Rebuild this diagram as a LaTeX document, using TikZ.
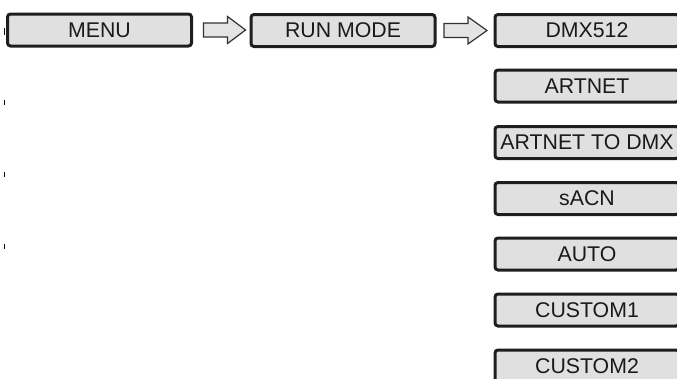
\documentclass[tikz,border=0pt]{standalone}
\usepackage{fontspec}
\setmainfont{Liberation Sans}
\usetikzlibrary{calc}
\definecolor{boxfill}{HTML}{E0E0E0}
\definecolor{boxline}{HTML}{1E1E1E}
\definecolor{txt}{HTML}{1A1A1A}
\definecolor{arrfill}{HTML}{E4E4E4}
\definecolor{arrline}{HTML}{333333}
\begin{document}
\begin{tikzpicture}[x=1pt,y=-1pt,
  menubox/.style={draw=boxline,fill=boxfill,line width=3pt,rounded corners=3pt,
    minimum width=184pt,minimum height=32pt,inner sep=0pt,text=txt,
    font=\fontsize{21.3}{25}\selectfont},
  optbox/.style={menubox,minimum width=184pt},
  blockarrow/.style={draw=arrline,fill=arrfill,line width=1.2pt,line join=miter},
  tick/.style={draw=black,line width=1pt}]
\useasboundingbox (0,0) rectangle (677,378);
\node[menubox] (menu) at (99.5,30) {MENU};
\node[menubox] (run) at (343,30.5) {RUN MODE};
\node[optbox] (dmx) at (587,30.5) {DMX512};
\node[optbox] (artnet) at (587,86) {ARTNET};
\node[optbox] (a2d) at (587,142.5) {ARTNET TO DMX};
\node[optbox] (sacn) at (587,198.5) {sACN};
\node[optbox] (auto) at (587,254) {AUTO};
\node[optbox] (c1) at (587,310) {CUSTOM1};
\node[optbox] (c2) at (587,366) {CUSTOM2};
% block arrows
\coordinate (s1) at ($(menu.east)+(10.5,0)$);
\draw[blockarrow] ($(s1)+(0,-7)$) -- ++(24,0) -- ++(0,-6.5) -- ($(s1)+(42,0)$)
  -- ($(s1)+(24,13.5)$) -- ++(0,-6.5) -- ($(s1)+(0,7)$) -- cycle;
\coordinate (s3) at ($(run.east)+(7.5,0)$);
\draw[blockarrow] ($(s3)+(0,-7)$) -- ++(24,0) -- ++(0,-6.5) -- ($(s3)+(43,0)$)
  -- ($(s3)+(24,13.5)$) -- ++(0,-6.5) -- ($(s3)+(0,7)$) -- cycle;
% stray ticks on the left
\draw[tick] (4.5,28) -- (4.5,35);
\draw[tick] (4.5,100) -- (4.5,105);
\draw[tick] (4.5,172) -- (4.5,177);
\draw[tick] (4.5,244) -- (4.5,249);
\end{tikzpicture}
\end{document}
